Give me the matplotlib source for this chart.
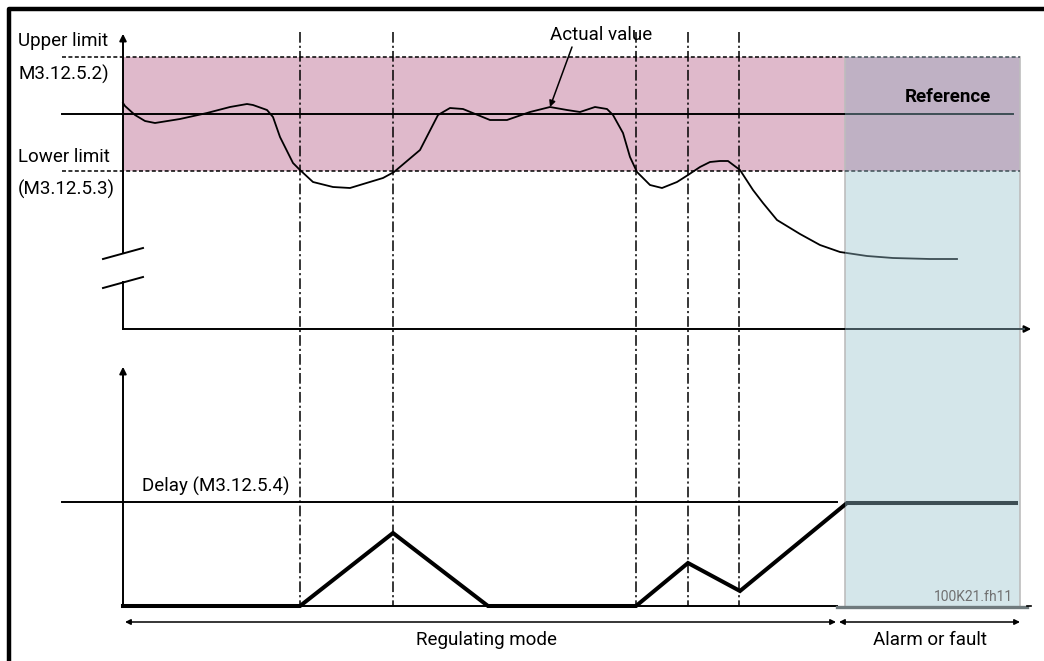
import matplotlib
matplotlib.use("Agg")
import matplotlib.pyplot as plt
from matplotlib.patches import Rectangle

plt.rcParams['font.family'] = ['Roboto', 'DejaVu Sans']

# ---- diagram data (diagram units: x = time, y = vertical position) ----
actual_x = [123, 125, 135, 145, 155, 180, 207, 230, 247, 253, 267, 273, 280, 293, 300,
            313, 333, 350, 383, 394, 420, 438, 450, 463, 490, 507, 530, 550, 567,
            580, 595, 607, 613, 623, 630, 637, 650, 662, 677, 688, 700, 710, 720,
            728, 740, 753, 763, 777, 800, 820, 840, 867, 893, 930, 957]
actual_y = [103, 106, 115, 121, 123, 119, 113, 107, 104, 105, 110, 117, 137, 163, 170,
            182, 187, 188, 178, 172, 150, 115, 108, 109, 120, 120, 112, 107, 110,
            112, 107, 109, 115, 133, 157, 172, 185, 188, 182, 175, 167, 162, 161,
            161, 170, 190, 203, 220, 234, 245, 252, 256, 258, 259, 259]

event_x = [300, 393, 636, 688, 739]          # limit crossings (dash-dot lines)
delay_x = [123, 300, 393, 488, 636, 688, 740, 847, 1016]
delay_y = [606, 606, 533, 606, 606, 563, 591, 503, 503]

upper_limit_y = 57
lower_limit_y = 171
reference_y = 114
delay_level_y = 502
top_axis_y = 329
bottom_axis_y = 606
axis_x = 123
fault_x0, fault_x1 = 845, 1020

labels = {
    'upper': 'Upper limit', 'upper_par': 'M3.12.5.2)',
    'lower': 'Lower limit', 'lower_par': '(M3.12.5.3)',
    'delay': 'Delay (M3.12.5.4)', 'actual': 'Actual value',
    'reference': 'Reference', 'regulating': 'Regulating mode',
    'alarm': 'Alarm or fault', 'code': '100K21.fh11',
}

PINK = '#dfb9cb'
BLUE = '#d4e6ea'
PURPLE = '#bfb1c4'
GRAYLINE = '#3d4e54'

fig = plt.figure(figsize=(10.44, 6.61), dpi=100)
ax = fig.add_axes([0, 0, 1, 1])
ax.set_xlim(0, 1044)
ax.set_ylim(661, 0)
ax.axis('off')

# frame
ax.plot([9, 9, 1044], [661, 9, 9], color='black', lw=3.2, solid_capstyle='butt', zorder=10)

# backgrounds
ax.add_patch(Rectangle((axis_x, upper_limit_y), fault_x0 - axis_x, lower_limit_y - upper_limit_y,
                       facecolor=PINK, edgecolor='none', zorder=0))
ax.add_patch(Rectangle((fault_x0, upper_limit_y), fault_x1 - fault_x0, bottom_axis_y + 2 - upper_limit_y,
                       facecolor=BLUE, edgecolor='none', zorder=0))
ax.add_patch(Rectangle((fault_x0, upper_limit_y), fault_x1 - fault_x0, lower_limit_y - upper_limit_y,
                       facecolor=PURPLE, edgecolor='none', zorder=0))
for xx in (fault_x0, fault_x1):
    ax.plot([xx, xx], [upper_limit_y, bottom_axis_y + 2], color='#bdbdbd', lw=1.2, zorder=1)

clip = Rectangle((fault_x0, 0), fault_x1 - fault_x0 + 30, 661, transform=ax.transData)


def line(xs, ys, **kw):
    l1, = ax.plot(xs, ys, color='black', **kw)
    kw2 = dict(kw)
    kw2['zorder'] = kw.get('zorder', 2) + 0.1
    l2, = ax.plot(xs, ys, color=GRAYLINE, **kw2)
    l2.set_clip_path(clip)
    cl = Rectangle((0, 0), fault_x0, 661, transform=ax.transData)
    l1.set_clip_path(cl)
    return l1


# limit dashed lines
for yy in (upper_limit_y, lower_limit_y):
    line([62, fault_x1], [yy, yy], lw=1.1, ls=(0, (2.6, 1.6)), zorder=3)

# reference line
line([62, 1013], [reference_y, reference_y], lw=1.4, zorder=3)

# upper axis with break
ax.plot([axis_x, axis_x], [253, 40], color='black', lw=1.4, zorder=3)
ax.annotate('', xy=(axis_x, 31), xytext=(axis_x, 45),
            arrowprops=dict(arrowstyle='-|>', color='black', lw=1.4, mutation_scale=10), zorder=3)
ax.plot([axis_x, axis_x], [282, top_axis_y], color='black', lw=1.4, zorder=3)
ax.plot([103, 143], [259, 248], color='black', lw=1.4, zorder=3)
ax.plot([103, 143], [288, 277], color='black', lw=1.4, zorder=3)
line([axis_x, 1024], [top_axis_y, top_axis_y], lw=1.4, zorder=3)
ax.annotate('', xy=(1034, top_axis_y), xytext=(1020, top_axis_y),
            arrowprops=dict(arrowstyle='-|>', color='black', lw=1.4, mutation_scale=10), zorder=3)

# actual value curve
line(actual_x, actual_y, lw=1.3, zorder=4)

# event dash-dot lines
for ex in event_x:
    ax.plot([ex, ex], [32, bottom_axis_y], color='black', lw=1.1,
            ls=(0, (7, 2, 1.4, 2)), zorder=3)

# lower axis
ax.plot([axis_x, axis_x], [bottom_axis_y, 375], color='black', lw=1.4, zorder=3)
ax.annotate('', xy=(axis_x, 364), xytext=(axis_x, 380),
            arrowprops=dict(arrowstyle='-|>', color='black', lw=1.4, mutation_scale=10), zorder=3)
line([axis_x, 837], [bottom_axis_y, bottom_axis_y], lw=1.4, zorder=3)
ax.plot([837, 1027], [bottom_axis_y + 1, bottom_axis_y + 1], color='#6f7a7d', lw=2.4, zorder=3)
ax.plot([1027, 1031], [bottom_axis_y, bottom_axis_y], color='black', lw=1.2, zorder=3)

# delay level
ax.plot([62, 837], [delay_level_y, delay_level_y], color='black', lw=1.4, zorder=3)

# delay counter
line(delay_x, delay_y, lw=2.9, zorder=5, solid_joinstyle='miter')

# bottom arrows
ax.annotate('', xy=(125, 622), xytext=(836, 622),
            arrowprops=dict(arrowstyle='<|-|>', color='black', lw=1.1, mutation_scale=8,
                            shrinkA=0, shrinkB=0), zorder=3)
ax.annotate('', xy=(839, 622), xytext=(1020, 622),
            arrowprops=dict(arrowstyle='<|-|>', color='black', lw=1.1, mutation_scale=8,
                            shrinkA=0, shrinkB=0), zorder=3)

# actual value pointer
ax.annotate('', xy=(550, 107), xytext=(572, 47),
            arrowprops=dict(arrowstyle='-|>', color='black', lw=1.1, mutation_scale=9,
                            shrinkA=0, shrinkB=0), zorder=6)

fs = 13.5
ax.text(18, 41, labels['upper'], fontsize=fs, va='center', ha='left')
ax.text(18, 74, labels['upper_par'], fontsize=fs, va='center', ha='left')
ax.text(18, 157, labels['lower'], fontsize=fs, va='center', ha='left')
ax.text(18, 189, labels['lower_par'], fontsize=fs, va='center', ha='left')
ax.text(142, 486, labels['delay'], fontsize=fs, va='center', ha='left')
ax.text(601, 35, labels['actual'], fontsize=fs, va='center', ha='center')
ax.text(948, 97, labels['reference'], fontsize=fs, va='center', ha='center', fontweight='bold')
ax.text(486, 640, labels['regulating'], fontsize=fs, va='center', ha='center')
ax.text(930, 640, labels['alarm'], fontsize=fs, va='center', ha='center')
ax.text(1013, 597, labels['code'], fontsize=10, va='center', ha='right', color='#707070')

fig.savefig('out.png', dpi=100)
